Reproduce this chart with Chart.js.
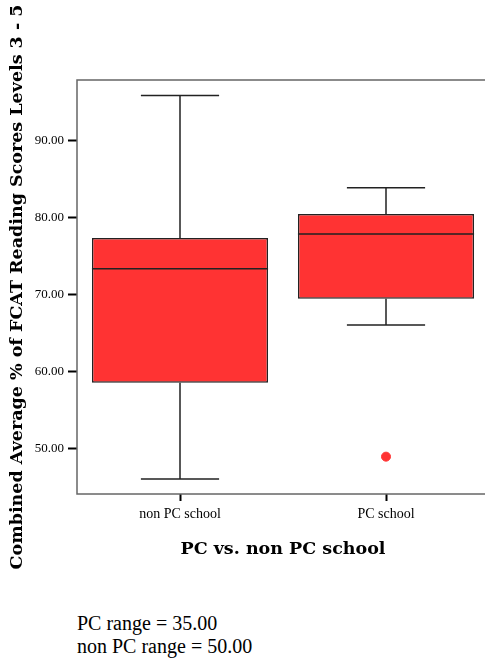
<!DOCTYPE html>
<html>
<head>
<meta charset="utf-8">
<script src="https://cdn.jsdelivr.net/npm/chart.js@4/dist/chart.umd.min.js"></script>
<style>
  html, body { margin: 0; padding: 0; background: #fff; overflow: hidden; }
  #wrap { position: relative; width: 485px; height: 660px; overflow: hidden; }
  #grafico { position: absolute; left: 0; top: 0; }
  .nota { position: absolute; left: 77px; font-family: "Liberation Serif", serif; font-size: 20px; line-height: 23px; color: #000; }
</style>
</head>
<body>
<div id="wrap">
  <canvas id="grafico" width="500" height="580"></canvas>
  <div class="nota" style="top:612px;">PC range = 35.00</div>
  <div class="nota" style="top:635px;">non PC range = 50.00</div>
</div>
<script>
const categorias = ["non PC school", "PC school"];
const bigodeMin = [46.1, 66.1];
const quartil1 = [58.6, 69.5];
const medianas = [73.4, 77.9];
const quartil3 = [77.4, 80.5];
const bigodeMax = [95.9, 83.9];
const outlierCategoria = ["PC school"];
const outlierValor = [49.0];
const ticksY = [50, 60, 70, 80, 90];

const vermelho = "rgb(255, 51, 51)";

// whiskers, medians and frame, drawn from the scales
const desenhaCaixas = {
  id: "desenhaCaixas",
  afterDatasetsDraw(chart) {
    const ctx = chart.ctx;
    const y = chart.scales.y;
    const meta = chart.getDatasetMeta(0);
    ctx.save();
    ctx.strokeStyle = "#222";
    ctx.lineWidth = 1.5;
    meta.data.forEach((barra, i) => {
      const cx = barra.x;
      const meia = barra.width / 2;
      const capa = barra.width * 0.222;
      const yMax = y.getPixelForValue(bigodeMax[i]);
      const yQ3 = y.getPixelForValue(quartil3[i]);
      const yQ1 = y.getPixelForValue(quartil1[i]);
      const yMin = y.getPixelForValue(bigodeMin[i]);
      const yMed = y.getPixelForValue(medianas[i]);
      ctx.beginPath();
      ctx.moveTo(cx, yMax); ctx.lineTo(cx, yQ3);
      ctx.moveTo(cx, yQ1); ctx.lineTo(cx, yMin);
      ctx.moveTo(cx - capa, yMax); ctx.lineTo(cx + capa, yMax);
      ctx.moveTo(cx - capa, yMin); ctx.lineTo(cx + capa, yMin);
      ctx.moveTo(cx - meia, yMed); ctx.lineTo(cx + meia, yMed);
      ctx.stroke();
    });
    const a = chart.chartArea;
    ctx.strokeStyle = "#666";
    ctx.lineWidth = 1.5;
    ctx.strokeRect(a.left, a.top, a.right - a.left, a.bottom - a.top);
    ctx.restore();
  }
};

new Chart(document.getElementById("grafico"), {
  type: "bar",
  data: {
    labels: categorias,
    datasets: [
      {
        label: "caixa",
        data: categorias.map((c, i) => [quartil1[i], quartil3[i]]),
        backgroundColor: vermelho,
        borderColor: "#222",
        borderWidth: 1.5,
        borderSkipped: false,
        barPercentage: 0.855,
        categoryPercentage: 1,
        order: 2
      },
      {
        type: "scatter",
        label: "outlier",
        data: outlierCategoria.map((c, i) => ({ x: c, y: outlierValor[i] })),
        backgroundColor: vermelho,
        borderColor: vermelho,
        pointRadius: 4.5,
        order: 1
      }
    ]
  },
  options: {
    responsive: false,
    animation: false,
    layout: { padding: { top: 80, right: 11, left: 0, bottom: 0 } },
    plugins: {
      legend: { display: false },
      tooltip: { enabled: false }
    },
    scales: {
      x: {
        type: "category",
        offset: true,
        afterFit(scale) { scale.height = 86; },
        grid: {
          offset: false,
          drawOnChartArea: false,
          drawTicks: true,
          tickLength: 7,
          tickColor: "#000",
          tickWidth: 2
        },
        border: { display: false },
        ticks: {
          color: "#000",
          padding: 5,
          font: { family: "Liberation Serif", size: 14 }
        },
        title: {
          display: true,
          text: "PC vs. non PC school",
          color: "#000",
          padding: { top: 0, bottom: 20 },
          font: { family: "DejaVu Serif", size: 17.5, weight: "bold" }
        }
      },
      y: {
        min: 44.15,
        max: 97.9,
        afterFit(scale) { scale.width = 77; },
        afterBuildTicks(scale) { scale.ticks = ticksY.map(v => ({ value: v })); },
        grid: {
          drawOnChartArea: false,
          drawTicks: true,
          tickLength: 9,
          tickColor: "#000",
          tickWidth: 2
        },
        border: { display: false },
        ticks: {
          color: "#000",
          padding: 4,
          font: { family: "Liberation Serif", size: 13 },
          callback: (v) => Number(v).toFixed(2)
        },
        title: {
          display: true,
          text: "Combined Average % of FCAT Reading Scores Levels 3 - 5",
          color: "#000",
          padding: { top: 7, bottom: 0 },
          font: { family: "DejaVu Serif", size: 17.5, weight: "bold" }
        }
      }
    }
  },
  plugins: [desenhaCaixas]
});
</script>
</body>
</html>
